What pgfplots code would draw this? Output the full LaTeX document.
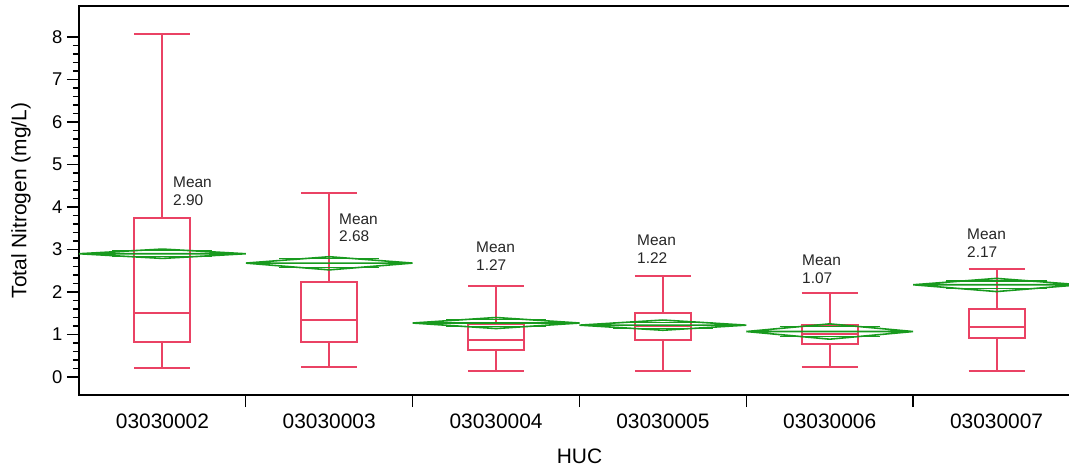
\documentclass[border=0pt]{standalone}
\usepackage{fontspec}
\setmainfont{Liberation Sans}
\usepackage{pgfplots}
\pgfplotsset{compat=1.18}
\usepgfplotslibrary{statistics}
\definecolor{boxred}{RGB}{234,66,100}
\definecolor{dgreen}{RGB}{24,154,30}
\pgfplotsset{
  /pgfplots/boxplot/every box/.style={draw=boxred, line width=2bp},
  /pgfplots/boxplot/every whisker/.style={draw=boxred, line width=2bp},
  /pgfplots/boxplot/every median/.style={draw=boxred, line width=2bp},
}
\begin{document}
\begin{tikzpicture}
\begin{axis}[
  name=ax,
  scale only axis,
  width=1001bp, height=389bp,
  xmin=-0.5, xmax=5.5,
  ymin=-0.4235, ymax=8.729,
  axis line style={line width=1.8bp, black},
  tick align=outside,
  xtick pos=bottom, ytick pos=left,
  ytick={0,1,2,3,4,5,6,7,8},
  minor y tick num=4,
  major tick length=12bp,
  minor tick length=6bp,
  every tick/.style={black, line width=1.3bp},
  /pgf/number format/assume math mode=true,
  yticklabel style={font=\fontsize{18.5}{22}\selectfont, inner sep=0pt, xshift=-4.5bp},
  xtick={0.5,1.5,2.5,3.5,4.5},
  xticklabels={},
  extra x ticks={0,1,2,3,4,5},
  extra x tick labels={03030002,03030003,03030004,03030005,03030006,03030007},
  extra x tick style={major tick length=0pt, tick label style={font=\fontsize{21}{25}\selectfont, inner sep=0pt, yshift=-19bp}},
  ylabel={Total Nitrogen (mg/L)},
  ylabel style={font=\fontsize{21}{25}\selectfont, at={(axis description cs:-0.0579,0.5)}, anchor=center},
  xlabel={HUC},
  xlabel style={font=\fontsize{21}{25}\selectfont, at={(axis description cs:0.5,0)}, anchor=center, yshift=-61bp},
  boxplot/draw direction=y,
  boxplot/box extend=0.336,
  boxplot/whisker extend=0.336,
  clip=true,
]
% box plots
\addplot[boxred, line width=2bp, solid, boxplot prepared={draw position=0, lower whisker=0.22, lower quartile=0.82, median=1.51, upper quartile=3.74, upper whisker=8.08}] coordinates {};
\addplot[boxred, line width=2bp, solid, boxplot prepared={draw position=1, lower whisker=0.23, lower quartile=0.82, median=1.33, upper quartile=2.24, upper whisker=4.34}] coordinates {};
\addplot[boxred, line width=2bp, solid, boxplot prepared={draw position=2, lower whisker=0.14, lower quartile=0.64, median=0.87, upper quartile=1.24, upper whisker=2.15}] coordinates {};
\addplot[boxred, line width=2bp, solid, boxplot prepared={draw position=3, lower whisker=0.14, lower quartile=0.87, median=1.20, upper quartile=1.51, upper whisker=2.38}] coordinates {};
\addplot[boxred, line width=2bp, solid, boxplot prepared={draw position=4, lower whisker=0.24, lower quartile=0.78, median=1.00, upper quartile=1.23, upper whisker=1.98}] coordinates {};
\addplot[boxred, line width=2bp, solid, boxplot prepared={draw position=5, lower whisker=0.13, lower quartile=0.92, median=1.18, upper quartile=1.59, upper whisker=2.55}] coordinates {};
% mean diamonds
\addplot[dgreen, line width=1.6bp] coordinates {(-0.5,2.90) (0,3.01) (0.5,2.90) (0,2.79) (-0.5,2.90) (0.5,2.90)};
\addplot[dgreen, line width=1.2bp] coordinates {(-0.3,2.97) (0.3,2.97)};
\addplot[dgreen, line width=1.2bp] coordinates {(-0.3,2.83) (0.3,2.83)};
\addplot[dgreen, line width=1.6bp] coordinates {(0.5,2.68) (1,2.83) (1.5,2.68) (1,2.52) (0.5,2.68) (1.5,2.68)};
\addplot[dgreen, line width=1.2bp] coordinates {(0.7,2.78) (1.3,2.78)};
\addplot[dgreen, line width=1.2bp] coordinates {(0.7,2.58) (1.3,2.58)};
\addplot[dgreen, line width=1.6bp] coordinates {(1.5,1.27) (2,1.40) (2.5,1.27) (2,1.14) (1.5,1.27) (2.5,1.27)};
\addplot[dgreen, line width=1.2bp] coordinates {(1.7,1.35) (2.3,1.35)};
\addplot[dgreen, line width=1.2bp] coordinates {(1.7,1.19) (2.3,1.19)};
\addplot[dgreen, line width=1.6bp] coordinates {(2.5,1.22) (3,1.34) (3.5,1.22) (3,1.10) (2.5,1.22) (3.5,1.22)};
\addplot[dgreen, line width=1.2bp] coordinates {(2.7,1.29) (3.3,1.29)};
\addplot[dgreen, line width=1.2bp] coordinates {(2.7,1.15) (3.3,1.15)};
\addplot[dgreen, line width=1.6bp] coordinates {(3.5,1.07) (4,1.25) (4.5,1.07) (4,0.89) (3.5,1.07) (4.5,1.07)};
\addplot[dgreen, line width=1.2bp] coordinates {(3.7,1.18) (4.3,1.18)};
\addplot[dgreen, line width=1.2bp] coordinates {(3.7,0.96) (4.3,0.96)};
\addplot[dgreen, line width=1.6bp] coordinates {(4.5,2.17) (5,2.32) (5.5,2.17) (5,2.01) (4.5,2.17) (5.5,2.17)};
\addplot[dgreen, line width=1.2bp] coordinates {(4.7,2.26) (5.3,2.26)};
\addplot[dgreen, line width=1.2bp] coordinates {(4.7,2.08) (5.3,2.08)};
% mean labels
\begin{scope}[every node/.style={font=\fontsize{15.5}{17.7}\selectfont, align=left, anchor=north west, inner sep=0pt, text=black!85}]
\node at (axis cs:0.0635,4.71) {Mean\\2.90};
\node at (axis cs:1.0585,3.85) {Mean\\2.68};
\node at (axis cs:1.880,3.18) {Mean\\1.27};
\node at (axis cs:2.845,3.34) {Mean\\1.22};
\node at (axis cs:3.834,2.87) {Mean\\1.07};
\node at (axis cs:4.823,3.49) {Mean\\2.17};
\end{scope}
\end{axis}
\pgfresetboundingbox
\path ([shift={(-79bp,-74bp)}]ax.south west) rectangle ++(1069bp,469bp);
\end{tikzpicture}
\end{document}
